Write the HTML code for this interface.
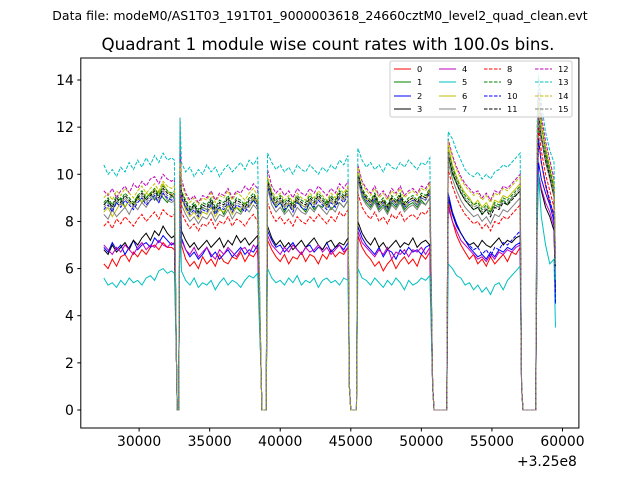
<!DOCTYPE html>
<html><head><meta charset="utf-8">
<style>
html,body{margin:0;padding:0;background:#fff;}
svg{display:block;font-family:"DejaVu Sans","Liberation Sans",sans-serif;}
</style></head>
<body>
<svg id="chart" width="640" height="480" viewBox="0 0 640 480">
<rect width="640" height="480" fill="#fff"/>
<text x="320" y="20" font-size="12.5" text-anchor="middle">Data file: modeM0/AS1T03_191T01_9000003618_24660cztM0_level2_quad_clean.evt</text>
<text x="328" y="50" font-size="16.7" text-anchor="middle">Quadrant 1 module wise count rates with 100.0s bins.</text>
<g id="plot"></g>
<g id="axes"></g>
<g id="legend"></g>
</svg>
<script>
const times=[27500,27800,28100,28400,28700,29000,29300,29600,29900,30200,30500,30800,31100,31400,31700,32000,32300,
32500,32650,32700,32800,32900,
33000,33300,33600,33900,34200,34500,34800,35100,35400,35700,36000,36300,36600,36900,37200,37500,37800,38100,38400,
38650,38700,39000,
39100,39400,39700,40000,40300,40600,40900,41200,41500,41800,42100,42400,42700,43000,43300,43600,43900,44200,44500,44800,
44900,45000,45400,
45500,45800,46100,46400,46700,47000,47300,47600,47900,48200,48500,48800,49100,49400,49700,50000,50300,50600,
50800,50900,51800,
51900,52200,52500,52800,53100,53400,53700,54000,54300,54600,54900,55200,55500,55800,56100,56400,56700,57000,
57100,57200,58100,
58200,58300,58500,58800,59100,59400,59500];
const s0=[6.2,6.0,6.4,6.1,6.5,6.6,6.3,6.7,6.5,6.8,6.6,6.9,7.0,6.8,7.1,6.9,6.9, 6.8,2,0,0,9.5,
7.0,6.4,6.1,6.3,6.0,6.5,6.2,6.4,6.1,6.6,6.3,6.2,6.5,6.4,6.7,6.3,6.6,6.5,6.8, 1.5,0,0,
7.2,6.8,6.5,6.3,6.6,6.2,6.5,6.4,6.7,6.3,6.6,6.5,6.2,6.6,6.4,6.8,6.5,6.7,6.6,6.9, 1,0,0,
7.4,6.9,6.6,6.4,6.1,6.3,5.9,6.2,6.4,6.0,6.3,6.5,6.2,6.4,6.1,6.6,6.4,6.7, 1,0,0,
8.8,8.0,7.4,7.0,6.7,6.4,6.6,6.2,6.4,6.1,6.5,6.2,6.4,6.6,6.3,6.7,6.6,6.9, 1,0,0,
9,11.5,10.5,9.5,8.8,8.3,5.0];
const s1=[8.7,8.9,8.5,8.8,9.0,8.6,8.9,8.7,9.1,8.8,9.0,9.2,8.9,9.3,9.0,8.8,9.1, 9.0,2,0,0,10,
9.0,8.6,8.4,8.7,8.3,8.6,8.5,8.8,8.4,8.6,8.3,8.7,8.5,8.6,8.4,8.8,8.6,8.9,8.7, 1.5,0,0,
9.6,8.9,8.6,8.8,8.4,8.7,8.5,8.9,8.6,8.4,8.8,8.5,8.7,8.6,8.9,8.5,8.7,8.8,8.6,8.9, 1,0,0,
9.8,9.1,8.8,8.6,8.9,8.5,8.7,8.4,8.8,8.6,8.9,8.5,8.7,8.8,8.6,8.9,8.7,9.0, 1,0,0,
10.8,10.0,9.6,9.2,8.9,8.7,8.5,8.6,8.3,8.5,8.4,8.7,8.6,8.9,8.7,9.0,9.1,9.3, 1,0,0,
10,12,11.5,10.8,10,9.2,6.0];
const s2=[6.9,6.7,7.1,6.8,7.0,6.6,6.9,7.2,6.8,7.0,7.1,6.9,7.3,7.1,7.4,7.2,7.0, 7.1,2,0,0,9.5,
7.3,6.8,6.5,6.7,6.4,6.6,6.9,6.5,6.7,6.4,6.6,6.8,6.5,6.7,6.9,6.6,6.8,6.7,7.0, 1.5,0,0,
7.6,7.2,6.9,7.0,6.7,6.9,7.1,6.8,6.6,6.9,7.0,6.7,6.9,6.8,7.1,6.7,6.9,7.0,6.8,7.1, 1,0,0,
7.8,7.3,7.0,6.8,6.6,6.9,6.5,6.8,6.7,6.4,6.8,6.6,6.9,6.7,6.8,6.6,6.9,7.0, 1,0,0,
9.2,8.4,7.9,7.5,7.2,6.9,6.7,6.5,6.6,6.4,6.7,6.5,6.8,6.7,6.9,6.8,7.0,7.1, 1,0,0,
8.5,10.5,9.8,9.2,8.7,8.0,4.5];
const s3=[6.8,6.6,7.0,6.7,6.9,7.1,6.8,7.2,7.0,7.3,7.5,7.2,7.6,7.4,7.8,7.5,7.3, 7.4,2,0,0,9.8,
7.6,7.2,6.9,7.1,6.8,7.0,7.2,6.9,7.1,7.3,6.9,7.2,7.0,7.4,7.1,7.3,7.0,7.2,7.4, 1.5,0,0,
7.8,7.3,7.0,7.2,6.9,7.1,6.8,7.0,7.2,6.9,7.1,7.3,7.0,6.8,7.1,7.2,6.9,7.1,7.0,7.3, 1,0,0,
8.0,7.5,7.2,7.0,7.3,6.9,7.1,6.8,7.0,7.2,6.9,7.1,7.0,7.3,6.9,7.1,7.2,7.0, 1,0,0,
9.0,8.3,7.8,7.5,7.2,7.0,7.1,6.9,7.2,7.0,6.9,7.1,7.3,7.0,7.2,7.1,7.3,7.4, 1,0,0,
8,10,9.3,8.6,8.2,7.6,5.0];
const s4=[7.0,6.8,6.6,6.9,6.7,7.0,6.8,6.6,6.9,7.1,6.8,7.0,6.9,7.2,7.0,6.9,7.1, 7.0,2,0,0,9.6,
7.2,6.8,6.6,6.9,6.5,6.7,6.9,6.6,6.4,6.8,6.6,6.9,6.7,6.5,6.8,6.9,6.6,7.0,6.8, 1.5,0,0,
7.4,7.0,6.8,6.6,6.9,6.7,7.0,6.8,6.6,6.9,6.7,6.8,7.0,6.7,6.9,6.6,6.8,7.0,6.7,6.9, 1,0,0,
7.6,7.1,6.9,6.7,6.5,6.8,6.6,6.9,6.4,6.7,6.6,6.8,6.5,6.8,6.7,6.9,6.6,6.9, 1,0,0,
8.6,8.0,7.6,7.2,7.0,6.8,6.6,6.4,6.5,6.3,6.6,6.4,6.7,6.6,6.8,6.7,6.9,7.0, 1,0,0,
8.2,10,9.4,8.8,8.4,7.8,5.0];
const s5=[5.6,5.3,5.4,5.2,5.5,5.3,5.6,5.4,5.5,5.3,5.6,5.7,5.5,5.9,6.0,5.8,5.9, 5.8,2,0,0,9.0,
5.9,5.5,5.3,5.6,5.2,5.4,5.3,5.5,5.1,5.4,5.6,5.3,5.5,5.4,5.2,5.5,5.7,5.6,5.8, 1.5,0,0,
6.0,5.6,5.4,5.5,5.3,5.6,5.4,5.7,5.3,5.5,5.4,5.6,5.2,5.5,5.6,5.4,5.5,5.3,5.6,5.5, 1,0,0,
6.0,5.6,5.5,5.3,5.6,5.4,5.2,5.5,5.3,5.6,5.4,5.1,5.5,5.3,5.4,5.6,5.5,5.7, 1,0,0,
6.2,6.0,5.7,5.6,5.3,5.4,5.1,5.3,5.0,5.2,4.9,5.3,5.4,5.1,5.5,5.7,5.9,6.1, 1,0,0,
7.5,10.0,8.2,7.0,6.2,6.4,3.5];
const s6=[8.4,8.6,8.2,8.5,8.8,8.6,8.9,8.7,9.0,8.8,9.2,9.1,9.4,9.2,9.6,9.3,9.1, 9.2,2,0,0,10,
9.0,8.5,8.2,8.4,8.1,8.4,8.3,8.6,8.2,8.5,8.4,8.7,8.3,8.6,8.5,8.8,8.6,9.0,8.8, 1.5,0,0,
9.6,9.0,8.7,8.9,8.6,8.8,8.5,8.9,8.7,8.6,8.9,8.7,9.0,8.8,8.6,8.9,8.7,9.1,8.9,9.2, 1,0,0,
10.0,9.3,9.0,8.8,9.1,8.7,8.9,8.6,9.0,8.8,9.1,8.7,8.9,9.0,8.8,9.1,9.0,9.3, 1,0,0,
11.2,10.4,9.9,9.5,9.2,9.0,8.7,8.9,8.6,8.8,8.5,8.9,8.8,9.1,9.0,9.2,9.4,9.6, 1,0,0,
10.5,13,12,11,10.2,9.4,6.5];
const s7=[8.3,8.1,8.5,8.2,8.4,8.6,8.3,8.7,8.5,8.8,8.6,8.9,9.0,8.8,9.2,8.9,8.8, 8.9,2,0,0,12.4,
8.7,8.3,8.0,8.2,7.9,8.2,8.1,8.4,8.0,8.3,8.2,8.5,8.1,8.4,8.3,8.6,8.4,8.7,8.5, 1.5,0,0,
9.4,8.7,8.4,8.6,8.3,8.5,8.2,8.6,8.4,8.3,8.6,8.4,8.7,8.5,8.3,8.6,8.4,8.8,8.6,8.9, 1,0,0,
9.8,9.0,8.7,8.5,8.8,8.4,8.6,8.3,8.7,8.5,8.8,8.4,8.6,8.7,8.5,8.8,8.7,9.0, 1,0,0,
10.5,9.8,9.3,8.9,8.6,8.4,8.2,8.3,8.0,8.2,7.9,8.3,8.2,8.5,8.4,8.6,8.8,9.0, 1,0,0,
10,12.5,11.5,10.5,9.8,9.0,6.0];
const s8=[7.8,8.0,7.7,8.1,7.9,8.2,8.0,7.8,8.1,8.3,8.0,8.2,8.4,8.1,8.5,8.3,8.2, 8.3,2,0,0,9.8,
8.4,8.0,7.7,7.9,7.6,7.9,7.8,8.1,7.7,8.0,7.9,8.2,7.8,8.1,8.0,7.8,8.1,8.3,8.0, 1.5,0,0,
8.8,8.3,8.0,8.2,7.9,8.1,7.8,8.2,8.0,7.9,8.2,8.0,8.3,8.1,7.9,8.2,8.0,8.4,8.2,8.5, 1,0,0,
9.2,8.6,8.3,8.1,8.4,8.0,8.2,7.9,8.3,8.1,8.4,8.0,8.2,8.3,8.1,8.4,8.3,8.6, 1,0,0,
10.2,9.5,9.0,8.6,8.3,8.1,7.9,8.0,7.7,7.9,7.6,8.0,7.9,8.2,8.1,8.3,8.5,8.7, 1,0,0,
9.5,12,11,10,9.3,8.6,5.5];
const s9=[8.8,9.0,8.7,9.1,8.9,9.2,9.0,8.8,9.1,9.3,9.0,9.2,9.4,9.1,9.5,9.3,9.2, 9.3,2,0,0,10.2,
9.3,8.9,8.6,8.8,8.5,8.8,8.7,9.0,8.6,8.9,8.8,9.1,8.7,9.0,8.9,8.7,9.0,9.2,8.9, 1.5,0,0,
9.8,9.2,8.9,9.1,8.8,9.0,8.7,9.1,8.9,8.8,9.1,8.9,9.2,9.0,8.8,9.1,8.9,9.3,9.1,9.4, 1,0,0,
10.1,9.4,9.1,8.9,9.2,8.8,9.0,8.7,9.1,8.9,9.2,8.8,9.0,9.1,8.9,9.2,9.1,9.4, 1,0,0,
11.0,10.3,9.8,9.4,9.1,8.9,8.7,8.8,8.5,8.7,8.4,8.8,8.7,9.0,8.9,9.1,9.3,9.5, 1,0,0,
10.5,13,12.2,11,10.2,9.4,6.5];
const s10=[8.5,8.7,8.4,8.8,8.6,8.9,8.7,8.5,8.8,9.0,8.7,8.9,9.1,8.8,9.2,9.0,8.9, 9.0,2,0,0,10,
9.0,8.6,8.3,8.5,8.2,8.5,8.4,8.7,8.3,8.6,8.5,8.8,8.4,8.7,8.6,8.4,8.7,8.9,8.6, 1.5,0,0,
9.5,8.9,8.6,8.8,8.5,8.7,8.4,8.8,8.6,8.5,8.8,8.6,8.9,8.7,8.5,8.8,8.6,9.0,8.8,9.1, 1,0,0,
9.9,9.2,8.9,8.7,9.0,8.6,8.8,8.5,8.9,8.7,9.0,8.6,8.8,8.9,8.7,9.0,8.9,9.2, 1,0,0,
9.0,8.3,7.8,7.5,7.2,7.0,6.8,6.9,6.6,6.8,6.5,6.9,6.8,7.1,7.0,7.2,7.4,7.6, 1,0,0,
9,11.5,10.5,9.6,8.9,8.2,4.5];
const s11=[8.7,8.9,8.6,9.0,8.8,9.1,8.9,8.7,9.0,9.2,8.9,9.1,9.3,9.0,9.4,9.2,9.1, 9.2,2,0,0,10.1,
9.2,8.8,8.5,8.7,8.4,8.7,8.6,8.9,8.5,8.8,8.7,9.0,8.6,8.9,8.8,8.6,8.9,9.1,8.8, 1.5,0,0,
9.7,9.1,8.8,9.0,8.7,8.9,8.6,9.0,8.8,8.7,9.0,8.8,9.1,8.9,8.7,9.0,8.8,9.2,9.0,9.3, 1,0,0,
10.0,9.3,9.0,8.8,9.1,8.7,8.9,8.6,9.0,8.8,9.1,8.7,8.9,9.0,8.8,9.1,9.0,9.3, 1,0,0,
10.8,10.1,9.6,9.2,8.9,8.7,8.5,8.6,8.3,8.5,8.2,8.6,8.5,8.8,8.7,8.9,9.1,9.3, 1,0,0,
10.2,12.5,11.6,10.6,9.9,9.1,6.0];
const s12=[9.3,9.1,9.4,9.0,9.3,9.5,9.2,9.6,9.4,9.7,9.5,9.8,9.9,9.6,10.0,9.8,9.7, 9.8,2,0,0,11.0,
9.8,9.2,8.9,9.1,8.8,9.1,9.0,9.3,8.9,9.2,9.1,9.4,9.0,9.3,9.2,9.5,9.3,9.6,9.4, 1.5,0,0,
10.2,9.5,9.2,9.4,9.1,9.3,9.0,9.4,9.2,9.1,9.4,9.2,9.5,9.3,9.1,9.4,9.2,9.6,9.4,9.7, 1,0,0,
10.4,9.7,9.4,9.2,9.5,9.1,9.3,9.0,9.4,9.2,9.5,9.1,9.3,9.4,9.2,9.5,9.4,9.7, 1,0,0,
11.5,10.8,10.3,9.9,9.6,9.4,9.2,9.3,9.0,9.2,8.9,9.3,9.2,9.5,9.4,9.6,9.8,10.0, 1,0,0,
11,13.5,12.5,11.4,10.6,9.8,6.5];
const s13=[10.4,10.0,10.2,9.9,10.3,10.1,10.5,10.2,10.6,10.3,10.7,10.4,10.8,10.5,10.9,10.6,10.7, 10.6,2,0,0,12.4,
10.5,10.1,10.3,9.9,10.2,10.0,10.4,10.1,10.3,9.9,10.2,10.4,10.1,10.3,10.5,10.2,10.6,10.4,10.7, 1.5,0,0,
10.9,10.5,10.2,10.4,10.1,10.3,10.0,10.4,10.2,10.1,10.4,10.2,10.0,10.3,10.1,10.4,10.2,10.6,10.4,10.8, 1,0,0,
11.1,10.6,10.3,10.5,10.2,10.4,10.1,10.5,10.3,10.2,10.5,10.3,10.6,10.4,10.2,10.5,10.4,10.7, 1,0,0,
11.8,11.5,11.0,10.6,10.2,10.0,9.9,10.1,9.8,10.0,9.8,10.1,10.2,10.4,10.3,10.5,10.7,10.9, 1,0,0,
12,14.2,13.0,11.8,11.0,10.5,5.5];
const s14=[9.0,9.2,8.9,9.3,9.1,9.4,9.2,9.0,9.3,9.5,9.2,9.4,9.6,9.3,9.7,9.5,9.4, 9.5,2,0,0,10.5,
9.6,9.1,8.8,9.0,8.7,9.0,8.9,9.2,8.8,9.1,9.0,9.3,8.9,9.2,9.1,8.9,9.2,9.4,9.1, 1.5,0,0,
9.9,9.3,9.0,9.2,8.9,9.1,8.8,9.2,9.0,8.9,9.2,9.0,9.3,9.1,8.9,9.2,9.0,9.4,9.2,9.5, 1,0,0,
10.3,9.6,9.3,9.1,9.4,9.0,9.2,8.9,9.3,9.1,9.4,9.0,9.2,9.3,9.1,9.4,9.3,9.6, 1,0,0,
11.4,10.7,10.2,9.8,9.5,9.3,9.1,9.2,8.9,9.1,8.8,9.2,9.1,9.4,9.3,9.5,9.7,9.9, 1,0,0,
11,13.2,12.2,11.2,10.4,9.6,6.2];
const s15=[8.6,8.8,8.5,8.9,8.7,9.0,8.8,8.6,8.9,9.1,8.8,9.0,9.2,8.9,9.3,9.1,9.0, 9.1,2,0,0,10.0,
9.1,8.7,8.4,8.6,8.3,8.6,8.5,8.8,8.4,8.7,8.6,8.9,8.5,8.8,8.7,8.5,8.8,9.0,8.7, 1.5,0,0,
9.6,9.0,8.7,8.9,8.6,8.8,8.5,8.9,8.7,8.6,8.9,8.7,9.0,8.8,8.6,8.9,8.7,9.1,8.9,9.2, 1,0,0,
9.9,9.2,8.9,8.7,9.0,8.6,8.8,8.5,8.9,8.7,9.0,8.6,8.8,8.9,8.7,9.0,8.9,9.2, 1,0,0,
10.9,10.2,9.7,9.3,9.0,8.8,8.6,8.7,8.4,8.6,8.3,8.7,8.6,8.9,8.8,9.0,9.2,9.4, 1,0,0,
10.4,12.6,11.7,10.7,10.0,9.2,6.0];
const series=[s0,s1,s2,s3,s4,s5,s6,s7,s8,s9,s10,s11,s12,s13,s14,s15];
const labels=["0","1","2","3","4","5","6","7","8","9","10","11","12","13","14","15"];
const xTicks=[30000,35000,40000,45000,50000,55000,60000];
const yTicks=[0,2,4,6,8,10,12,14];
const colors=["#ff0000","#008000","#0000ff","#000000","#bf00bf","#00bfbf","#bfbf00","#808080"];

const NS="http://www.w3.org/2000/svg";
const L=80.8,R=578.9,T=58,B=428;
const x0=30000,x1=60000,px0=139.1,px1=562.5;
const X=v=>px0+(v-x0)*(px1-px0)/(x1-x0);
const Y=v=>410-v*(410-80)/14;
function mk(tag,attrs,parent){const e=document.createElementNS(NS,tag);for(const k in attrs)e.setAttribute(k,attrs[k]);parent.appendChild(e);return e;}
const plot=document.getElementById('plot');
const axes=document.getElementById('axes');
const leg=document.getElementById('legend');
series.forEach((s,i)=>{
  const d=s.map((v,j)=>(j?'L':'M')+X(times[j]).toFixed(2)+' '+Y(v).toFixed(2)).join(' ');
  const p=mk('path',{d:d,fill:'none',stroke:colors[i%8],'stroke-width':1},plot);
  if(i>=8)p.setAttribute('stroke-dasharray','3.5,1.5');
  
  
});
const frame=mk('rect',{x:L,y:T,width:R-L,height:B-T,fill:'none',stroke:'#000','stroke-width':1},axes);


xTicks.forEach(t=>{
  const tk=mk('line',{x1:X(t),x2:X(t),y1:B,y2:B+3.5,stroke:'#000'},axes);
  
  
  const tx=mk('text',{x:X(t),y:B+18,'font-size':13.9,'text-anchor':'middle'},axes);
  tx.textContent=t;
  
  
});
yTicks.forEach(t=>{
  const tk=mk('line',{x1:L-3.5,x2:L,y1:Y(t),y2:Y(t),stroke:'#000'},axes);
  
  
  const tx=mk('text',{x:L-7,y:Y(t)+5,'font-size':13.9,'text-anchor':'end'},axes);
  tx.textContent=t;
  
  
});
const off=mk('text',{x:R-2,y:466,'font-size':13.9,'text-anchor':'end'},axes);
off.textContent='+3.25e8';


const lb=mk('rect',{x:390,y:61,width:182,height:56,fill:'#fff','fill-opacity':0.8,stroke:'#ccc','stroke-width':1,rx:2},leg);


const colX=[394,439,484,535];
const rowY=[69,82,96,109];
labels.forEach((lab,i)=>{
  const c=Math.floor(i/4),r=i%4;
  const g=mk('g',{},leg);
  
  
  const ln=mk('line',{x1:colX[c],x2:colX[c]+17,y1:rowY[r],y2:rowY[r],stroke:colors[i%8],'stroke-width':1},g);
  if(i>=8)ln.setAttribute('stroke-dasharray','3.5,1.5');
  const tx=mk('text',{x:colX[c]+23,y:rowY[r]+3,'font-size':8.3},g);
  tx.textContent=lab;
});
</script>
</body></html>
